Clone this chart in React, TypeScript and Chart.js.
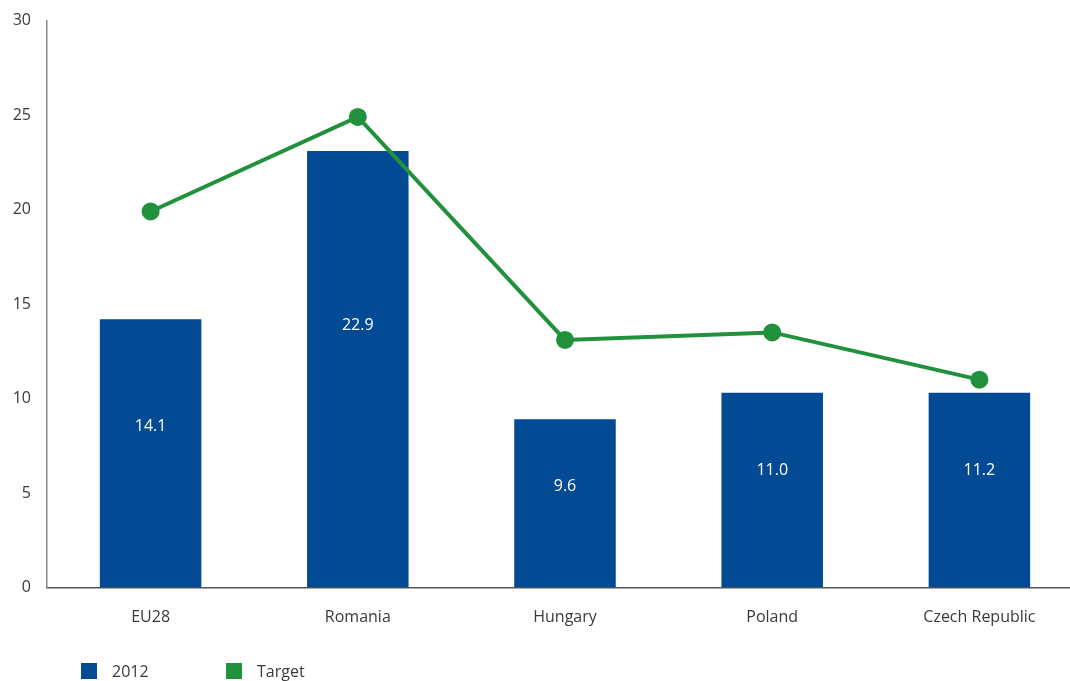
import React, { useEffect, useRef } from "react";
import { Chart, registerables } from "chart.js";

Chart.register(...registerables);

const categories = ["EU28", "Romania", "Hungary", "Poland", "Czech Republic"];
const values2012 = [14.2, 23.1, 8.9, 10.3, 10.3];
const labels2012 = ["14.1", "22.9", "9.6", "11.0", "11.2"];
const targetValues = [19.9, 24.9, 13.1, 13.5, 11.0];
const yTicks = [0, 5, 10, 15, 20, 25, 30];

const BLUE = "#024b94";
const GREEN = "#22913d";
const TEXT = "#3a3a3a";
const FONT = "'Open Sans', 'Noto Sans', sans-serif";

const barLabelPlugin = {
  id: "barLabels",
  afterDatasetsDraw(chart: any) {
    const meta = chart.getDatasetMeta(0);
    const yScale = chart.scales.y;
    const ctx = chart.ctx;
    ctx.save();
    ctx.fillStyle = "#ffffff";
    ctx.font = `16px ${FONT}`;
    ctx.textAlign = "center";
    ctx.textBaseline = "middle";
    meta.data.forEach((el: any, i: number) => {
      const v = values2012[i];
      const y = yScale.getPixelForValue(v * 0.6);
      ctx.fillText(labels2012[i], el.x, y);
    });
    ctx.restore();
  },
};

export default function App() {
  const ref = useRef<HTMLCanvasElement | null>(null);

  useEffect(() => {
    if (!ref.current) return;
    const chart = new Chart(ref.current, {
      type: "bar",
      data: {
        labels: categories,
        datasets: [
          {
            type: "bar",
            label: "2012",
            data: values2012,
            backgroundColor: BLUE,
            barPercentage: 0.49,
            categoryPercentage: 1,
            order: 2,
          },
          {
            type: "line",
            label: "Target",
            data: targetValues,
            borderColor: GREEN,
            backgroundColor: GREEN,
            borderWidth: 4,
            pointRadius: 9,
            pointHoverRadius: 9,
            pointBorderWidth: 0,
            tension: 0,
            order: 1,
          } as any,
        ],
      },
      options: {
        responsive: false,
        animation: false,
        layout: { padding: { top: 15, right: 0, left: 0, bottom: 0 } },
        plugins: {
          legend: { display: false },
          tooltip: { enabled: false },
        },
        scales: {
          x: {
            grid: { display: false, drawTicks: false },
            border: { display: true, color: "#555555", width: 1.5 },
            ticks: {
              color: TEXT,
              font: { family: FONT, size: 16 },
              padding: 20,
            },
            afterFit: (s: any) => {
              s.height = 93.5;
            },
          },
          y: {
            min: 0,
            max: 30,
            afterBuildTicks: (s: any) => {
              s.ticks = yTicks.map((v) => ({ value: v }));
            },
            grid: { display: false, drawTicks: false },
            border: { display: true, color: "#888888", width: 1.5 },
            ticks: {
              color: TEXT,
              font: { family: FONT, size: 16 },
              padding: 16,
            },
            afterFit: (s: any) => {
              s.width = 47;
            },
          },
        },
      },
      plugins: [barLabelPlugin],
    });
    return () => chart.destroy();
  }, []);

  const legendItem = (color: string, text: string, left: number) => (
    <div
      style={{
        position: "absolute",
        left,
        top: 662,
        height: 17,
        display: "flex",
        alignItems: "center",
        fontFamily: FONT,
        fontSize: 16,
        color: TEXT,
      }}
    >
      <span
        style={{
          display: "inline-block",
          width: 16,
          height: 16,
          background: color,
          marginRight: 15,
        }}
      />
      <span>{text}</span>
    </div>
  );

  return (
    <div
      style={{
        position: "fixed",
        left: 0,
        top: 0,
        width: 1070,
        height: 681,
        overflow: "hidden",
        background: "#ffffff",
      }}
    >
      <canvas
        ref={ref}
        width={1092}
        height={686}
        style={{ position: "absolute", left: 0, top: -5, width: 1092, height: 686 }}
      />
      {legendItem(BLUE, "2012", 81)}
      {legendItem(GREEN, "Target", 226)}
    </div>
  );
}
